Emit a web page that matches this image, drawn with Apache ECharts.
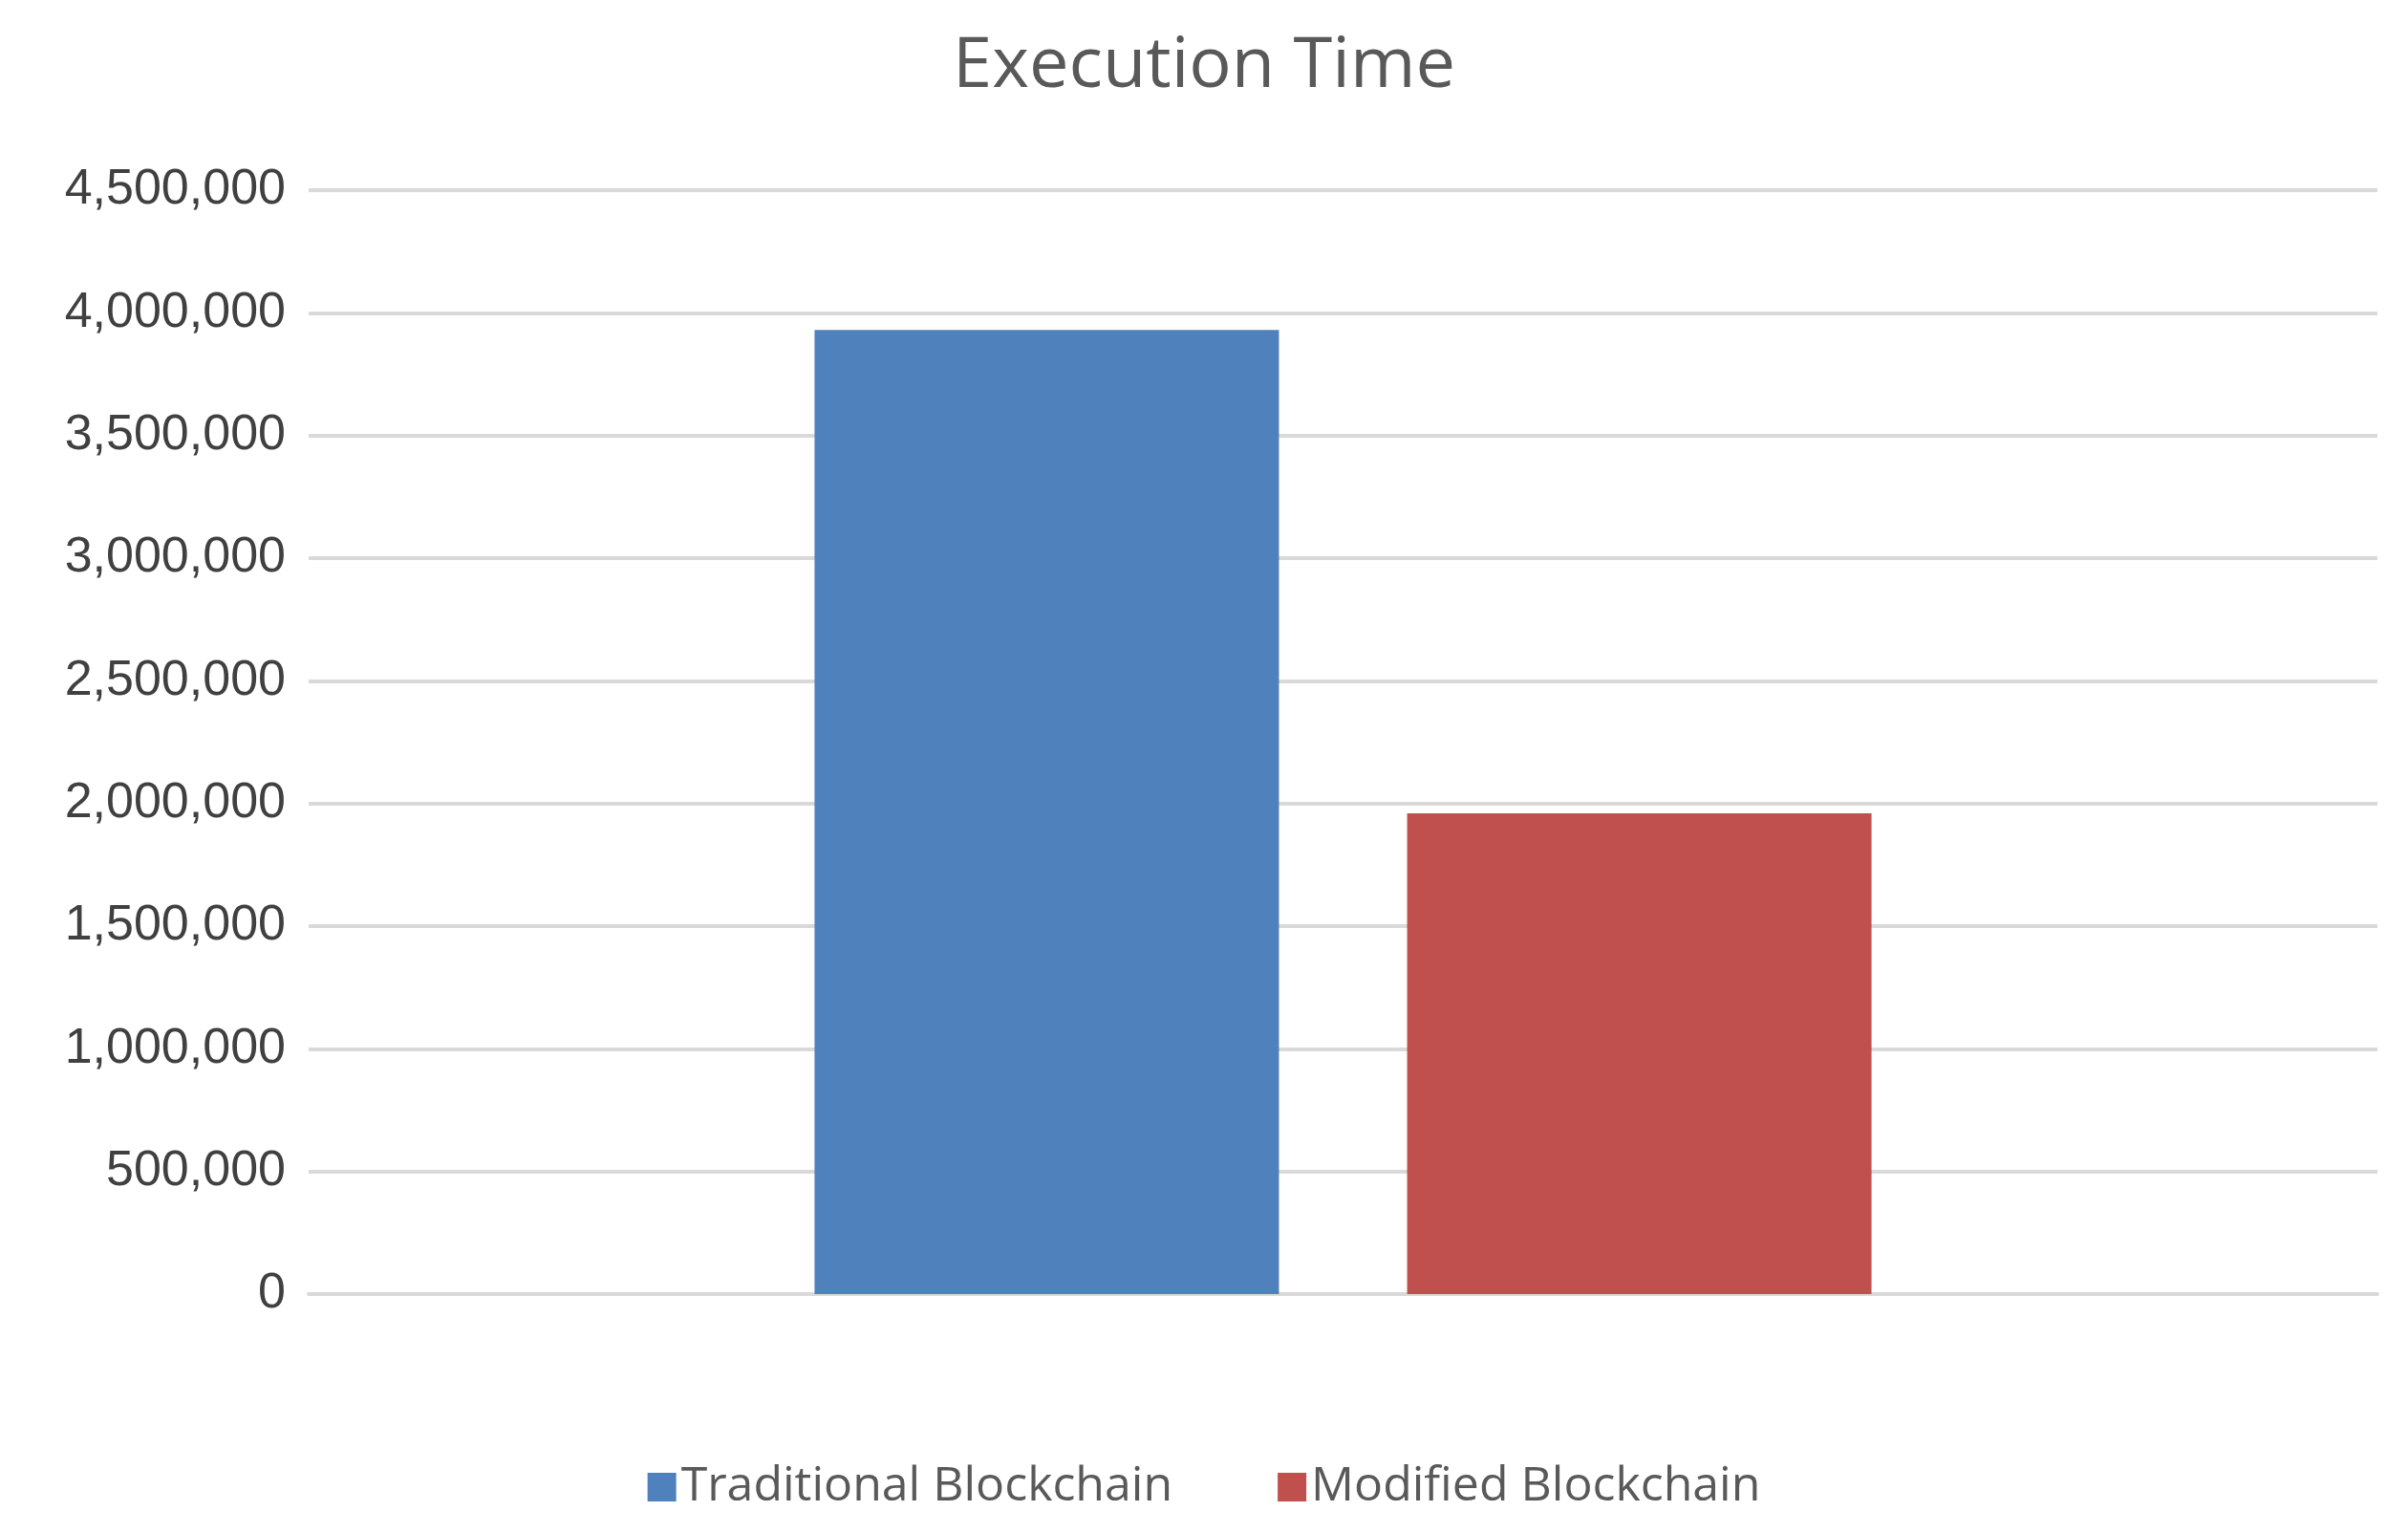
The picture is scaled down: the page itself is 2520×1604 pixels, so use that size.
<!DOCTYPE html>
<html><head><meta charset="utf-8">
<script src="https://cdn.jsdelivr.net/npm/echarts@6/dist/echarts.min.js"></script>
<style>html,body{margin:0;padding:0;background:#fff}#c{width:2520px;height:1604px}</style>
</head><body><div id="c"></div>
<script>
const categories = ['Execution Time'];
const seriesNames = ['Traditional Blockchain', 'Modified Blockchain'];
const traditional = [3930000];
const modified = [1960000];
const colors = ['#4F81BD', '#C0504D'];
const chart = echarts.init(document.getElementById('c'));
chart.setOption({
  animation: false,
  backgroundColor: '#fff',
  title: { text: 'Execution Time', left: 'center', top: 28, textStyle: { fontFamily: 'Open Sans', fontSize: 74, fontWeight: 'normal', color: '#595959' } },
  legend: { bottom: 18, itemWidth: 30, itemHeight: 30, itemGap: 110, icon: 'rect',
    textStyle: { fontFamily: 'Open Sans', fontSize: 50, color: '#595959' } },
  grid: { left: 323, right: 32, top: 199, bottom: 250 },
  xAxis: { type: 'category', data: categories, axisLabel: { show: false }, axisTick: { show: false },
    axisLine: { lineStyle: { color: '#d9d9d9', width: 4 } } },
  yAxis: { type: 'value', min: 0, max: 4500000, interval: 500000,
    axisLabel: { fontFamily: 'Liberation Sans', fontSize: 52, color: '#404040', margin: 24,
      formatter: v => v.toLocaleString('en-US') },
    splitLine: { lineStyle: { color: '#d9d9d9', width: 4 } }, axisLine: { show: false }, axisTick: { show: false } },
  series: [
    { name: seriesNames[0], type: 'bar', data: traditional, barWidth: 486, barGap: '27.6%', itemStyle: { color: colors[0] } },
    { name: seriesNames[1], type: 'bar', data: modified, barWidth: 486, itemStyle: { color: colors[1] } }
  ]
});
</script></body></html>
